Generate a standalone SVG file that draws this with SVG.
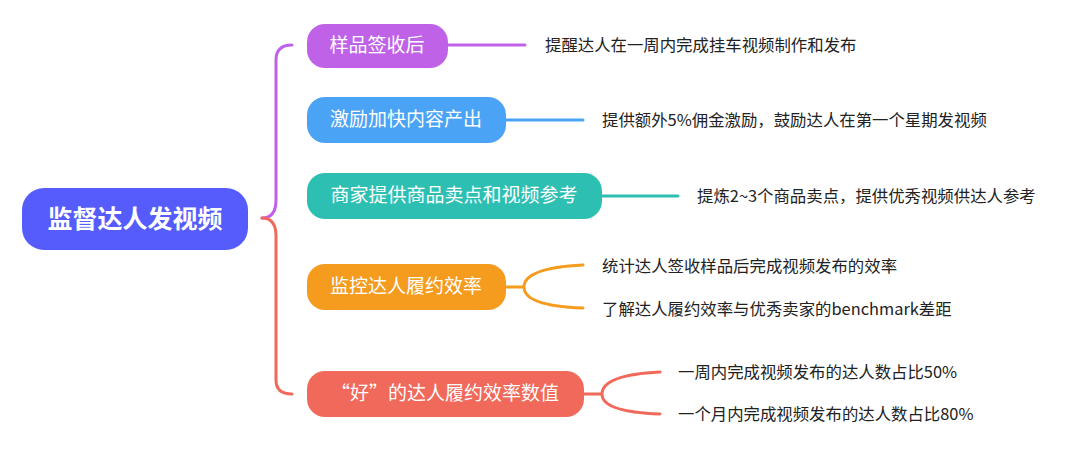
<svg xmlns="http://www.w3.org/2000/svg" width="1080" height="455" viewBox="0 0 1080 455">
<style>
.n{font-family:"Noto Sans CJK SC","Noto Sans",sans-serif;font-size:19px;fill:#fff}
.t{font-family:"Noto Sans CJK SC","Noto Sans",sans-serif;font-size:16.4px;fill:#222}
.c{fill:none;stroke-width:3;stroke-linecap:round}
</style>
<rect width="1080" height="455" fill="#fff"/>
<g id="connectors">
<path class="c" stroke="#C062E8" d="M262,218 Q276,218 276,200 L276,60 Q276,45 292,45"/>
<path class="c" stroke="#F0695A" d="M262,218 Q276,218 276,236 L276,380 Q276,394 292,394"/>
<path class="c" stroke="#C062E8" d="M448,45 H525"/>
<path class="c" stroke="#4BA3F5" d="M506,120 H583"/>
<path class="c" stroke="#2EBFB3" d="M602,196 H678"/>
<path class="c" stroke="#F59B1E" d="M506,287 H524 M583,265 Q524,268 524,287 Q524,306 583,308"/>
<path class="c" stroke="#F0695A" d="M584,394 H602 M660,372 Q602,375 602,394 Q602,412 660,414"/>
</g>
<g id="root"><rect x="22" y="188" width="226" height="62" rx="22" fill="#565CFB"/><text class="n" x="135" y="228" text-anchor="middle" style="font-size:25px;font-weight:bold">监督达人发视频</text></g>
<g id="n1"><rect x="307" y="24" width="141" height="44" rx="18" fill="#C062E8"/><text class="n" x="377" y="52" text-anchor="middle">样品签收后</text></g>
<g id="n2"><rect x="307" y="97" width="199" height="46" rx="18" fill="#4BA3F5"/><text class="n" x="406" y="126" text-anchor="middle">激励加快内容产出</text></g>
<g id="n3"><rect x="307" y="173" width="295" height="46" rx="18" fill="#2EBFB3"/><text class="n" x="454" y="202" text-anchor="middle">商家提供商品卖点和视频参考</text></g>
<g id="n4"><rect x="307" y="264" width="199" height="46" rx="18" fill="#F59B1E"/><text class="n" x="406" y="293" text-anchor="middle">监控达人履约效率</text></g>
<g id="n5"><rect x="307" y="371" width="277" height="46" rx="18" fill="#F0695A"/><text class="n" x="445" y="400" text-anchor="middle">“好”的达人履约效率数值</text></g>
<g id="l1"><text class="t" x="545" y="51">提醒达人在一周内完成挂车视频制作和发布</text></g>
<g id="l2"><text class="t" x="602" y="126">提供额外5%佣金激励，鼓励达人在第一个星期发视频</text></g>
<g id="l3"><text class="t" x="697" y="202">提炼2~3个商品卖点，提供优秀视频供达人参考</text></g>
<g id="l4"><text class="t" x="602" y="272">统计达人签收样品后完成视频发布的效率</text></g>
<g id="l5"><text class="t" x="602" y="315">了解达人履约效率与优秀卖家的benchmark差距</text></g>
<g id="l6"><text class="t" x="678" y="378">一周内完成视频发布的达人数占比50%</text></g>
<g id="l7"><text class="t" x="678" y="420">一个月内完成视频发布的达人数占比80%</text></g>
</svg>
